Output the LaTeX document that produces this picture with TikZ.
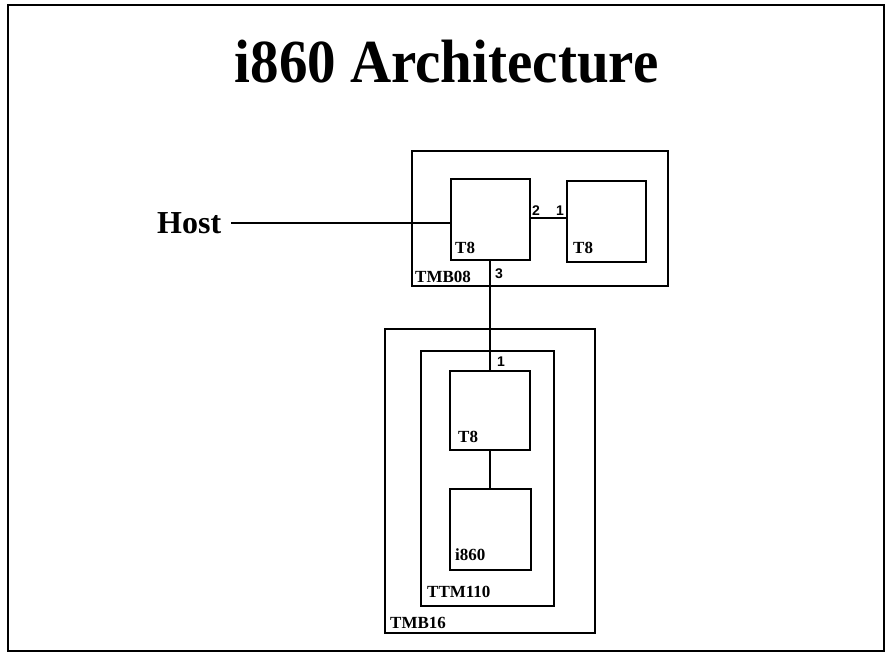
\documentclass[tikz,border=0pt]{standalone}
\usepackage{graphicx}
\usepackage{fontspec}
\setmainfont{Liberation Serif}
\newfontfamily\portfont{Liberation Sans}
\begin{document}
\begin{tikzpicture}[x=1pt,y=-1pt,
  unit/.style={draw=black, line width=2pt, rectangle, inner sep=0pt, outer sep=0pt},
  wire/.style={draw=black, line width=2pt},
  lbl/.style={anchor=base west, inner sep=0pt, font=\fontsize{17}{20}\selectfont\bfseries},
  port/.style={anchor=base west, inner sep=0pt, font=\fontsize{14}{16}\selectfont\portfont\bfseries},
]
\useasboundingbox (0,0) rectangle (887,654);
\draw[line width=2pt] (8,5) rectangle (884,651);

\node[anchor=base, inner sep=0pt] (title) at (446.5,82)
  {\scalebox{0.95}[1.02]{\fontsize{60}{70}\selectfont\bfseries i860 Architecture}};

% TMB08
\node[unit, minimum width=256pt, minimum height=135pt] (tmb08) at (540,218.5) {};
\node[unit, minimum width=79pt, minimum height=81pt] (t8a) at (490,219.5) {};
\node[unit, minimum width=79pt, minimum height=81pt] (t8b) at (606.5,221.5) {};
\node[lbl] (lt8a) at (455,253) {T8};
\node[lbl] (lt8b) at (573,253) {T8};
\node[lbl] (ltmb08) at (415,282) {TMB08};
\node[port] (p2) at (532,215) {2};
\node[port] (p1a) at (556,215) {1};
\node[port] (p3) at (495,278) {3};

% Host
\node[anchor=base west, inner sep=0pt, font=\fontsize{32}{36}\selectfont\bfseries] (host) at (157,233) {Host};

% TMB16
\node[unit, minimum width=210pt, minimum height=304pt] (tmb16) at (490,481) {};
\node[unit, minimum width=133pt, minimum height=255pt] (ttm110) at (487.5,478.5) {};
\node[unit, minimum width=80pt, minimum height=79pt] (t8c) at (490,410.5) {};
\node[unit, minimum width=81pt, minimum height=81pt] (i860) at (490,529.5) {};
\node[lbl] (lt8c) at (458,442) {T8};
\node[lbl] (li860) at (455,560) {i860};
\node[lbl] (lttm) at (427,597) {TTM110};
\node[lbl] (ltmb16) at (390,628) {TMB16};
\node[port] (p1b) at (497,366) {1};

% wires
\draw[wire] ([xshift=10pt,yshift=-0.5pt]host.east) -- ([yshift=-0.5pt]host.east -| t8a.west);
\draw[wire] ([yshift=1.5pt]t8a.east) -- ([yshift=1.5pt]t8a.east -| t8b.west);
\draw[wire] (t8a.south) -- (t8c.north);
\draw[wire] (t8c.south) -- (i860.north);
\end{tikzpicture}
\end{document}
